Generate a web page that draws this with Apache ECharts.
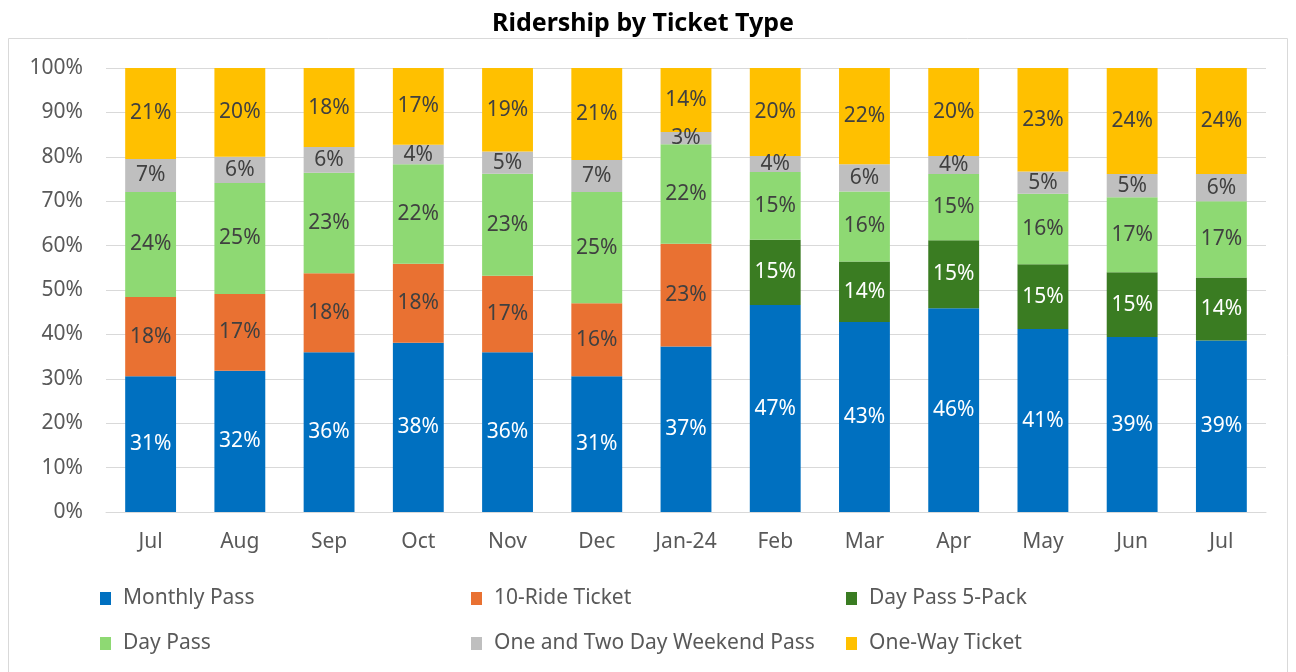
<!DOCTYPE html>
<html>
<head>
<meta charset="utf-8">
<script src="https://cdn.jsdelivr.net/npm/echarts@6/dist/echarts.min.js"></script>
<style>
  html, body { margin: 0; padding: 0; background: #fff; }
  #box1 { width: 1296px; height: 672px; }
</style>
</head>
<body>
<div id="box1"></div>
<script>
/* ridership share by ticket type, percent of month */
var months = ['Jul', 'Aug', 'Sep', 'Oct', 'Nov', 'Dec', 'Jan-24', 'Feb', 'Mar', 'Apr', 'May', 'Jun', 'Jul'];
var monthlyPass = [30.6, 31.8, 36.0, 38.1, 36.0, 30.6, 37.3, 46.6, 42.8, 45.9, 41.2, 39.4, 38.6];
var tenRide     = [17.8, 17.3, 17.8, 17.8, 17.2, 16.4, 23.1, null, null, null, null, null, null];
var dayPass5    = [null, null, null, null, null, null, null, 14.7, 13.6, 15.3, 14.6, 14.6, 14.2];
var dayPass     = [23.7, 25.0, 22.6, 22.4, 23.0, 25.1, 22.4, 15.3, 15.8, 14.9, 15.9, 16.9, 17.2];
var weekendPass = [7.4, 5.9, 5.8, 4.4, 5.0, 7.2, 2.8, 3.6, 6.1, 4.1, 5.0, 5.2, 6.1];
var oneWay      = [20.5, 20.0, 17.8, 17.3, 18.8, 20.7, 14.4, 19.8, 21.7, 19.8, 23.3, 23.9, 23.9];

var dom = document.getElementById("box1");
var myChart = echarts.init(dom);
var font = 'Noto Sans';

function bar(name, data, color, labelColor) {
    return {
        name: name,
        type: 'bar',
        stack: 'total',
        barCategoryGap: '43%',
        data: data,
        itemStyle: { color: color },
        label: {
            show: true,
            position: 'inside',
            color: labelColor,
            fontFamily: font,
            fontSize: 21,
            formatter: function (p) { return Math.round(p.value) + '%'; }
        }
    };
}

function legendCol(left, names) {
    return {
        orient: 'vertical',
        left: left,
        top: 583,
        itemGap: 24,
        itemWidth: 11,
        itemHeight: 13,
        icon: 'rect',
        data: names,
        selectedMode: false,
        textStyle: { fontFamily: font, fontSize: 21, color: '#595959', padding: [0, 0, 0, 7] }
    };
}

option = {
    animation: false,
    title: {
        text: 'Ridership by Ticket Type',
        left: 638,
        textAlign: 'center',
        top: 6,
        textStyle: { fontFamily: font, fontSize: 25, fontWeight: 'bold', color: '#000' }
    },
    graphic: [{
        type: 'rect',
        shape: { x: 8.5, y: 38.5, width: 1279, height: 660 },
        style: { fill: 'none', stroke: '#d9d9d9', lineWidth: 1 },
        z: -1
    }],
    legend: [
        legendCol(95, ['Monthly Pass', 'Day Pass']),
        legendCol(466, ['10-Ride Ticket', 'One and Two Day Weekend Pass']),
        legendCol(841, ['Day Pass 5-Pack', 'One-Way Ticket'])
    ],
    grid: { left: 106, right: 30, top: 68, bottom: 160 },
    xAxis: {
        type: 'category',
        data: months,
        axisLine: { lineStyle: { color: '#d9d9d9', width: 1 } },
        axisTick: { show: false },
        axisLabel: { fontFamily: font, fontSize: 21, color: '#595959', margin: 20 }
    },
    yAxis: {
        type: 'value',
        min: 0,
        max: 100,
        interval: 10,
        axisLabel: { formatter: '{value}%', fontFamily: font, fontSize: 21, color: '#595959', margin: 23 },
        splitLine: { lineStyle: { color: '#d9d9d9', width: 1 } }
    },
    series: [
        bar('Monthly Pass', monthlyPass, '#0070C0', '#ffffff'),
        bar('10-Ride Ticket', tenRide, '#E97132', '#404040'),
        bar('Day Pass 5-Pack', dayPass5, '#3A7C22', '#ffffff'),
        bar('Day Pass', dayPass, '#8ED973', '#404040'),
        bar('One and Two Day Weekend Pass', weekendPass, '#BFBFBF', '#404040'),
        bar('One-Way Ticket', oneWay, '#FFC000', '#404040')
    ]
};

if (option && typeof option === "object") {
    myChart.setOption(option, true);
}
</script>
</body>
</html>
